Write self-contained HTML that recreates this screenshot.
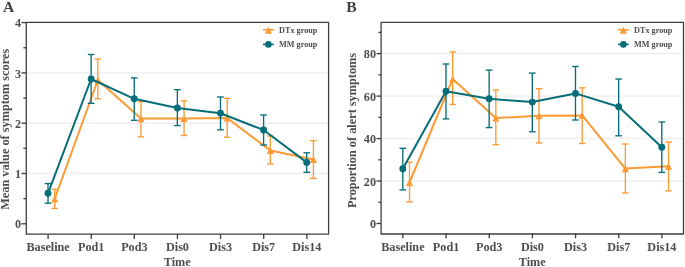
<!DOCTYPE html>
<html><head><meta charset="utf-8"><style>
html,body{margin:0;padding:0;background:#fff;}
svg{display:block;will-change:transform;}
.t{font-family:"Liberation Serif", serif;font-weight:bold;font-size:12.2px;fill:#4d4d4d;}
.leg{font-family:"Liberation Serif", serif;font-weight:bold;font-size:8.2px;fill:#4d4d4d;}
.lab{font-family:"Liberation Serif", serif;font-weight:bold;font-size:15.6px;fill:#404040;}
</style></head><body>
<svg width="685" height="267" viewBox="0 0 685 267">
<rect width="685" height="267" fill="#fff"/>
<line x1="26" y1="173.50" x2="328.5" y2="173.50" stroke="#eeeeee" stroke-width="1.4"/>
<line x1="26" y1="123.20" x2="328.5" y2="123.20" stroke="#eeeeee" stroke-width="1.4"/>
<line x1="26" y1="72.90" x2="328.5" y2="72.90" stroke="#eeeeee" stroke-width="1.4"/>
<line x1="26" y1="22.60" x2="328.5" y2="22.60" stroke="#eeeeee" stroke-width="1.4"/>
<path d="M26.3,22.3 L328.6,22.3 L328.6,234.2 L26.3,234.2 Z" fill="none" stroke="#404040" stroke-width="1.3" stroke-linejoin="miter"/>
<line x1="21.5" y1="223.80" x2="26" y2="223.80" stroke="#404040" stroke-width="1.35"/>
<text x="21" y="228.40" text-anchor="end" class="t">0</text>
<line x1="21.5" y1="173.50" x2="26" y2="173.50" stroke="#404040" stroke-width="1.35"/>
<text x="21" y="178.10" text-anchor="end" class="t">1</text>
<line x1="21.5" y1="123.20" x2="26" y2="123.20" stroke="#404040" stroke-width="1.35"/>
<text x="21" y="127.80" text-anchor="end" class="t">2</text>
<line x1="21.5" y1="72.90" x2="26" y2="72.90" stroke="#404040" stroke-width="1.35"/>
<text x="21" y="77.50" text-anchor="end" class="t">3</text>
<line x1="21.5" y1="22.60" x2="26" y2="22.60" stroke="#404040" stroke-width="1.35"/>
<text x="21" y="27.20" text-anchor="end" class="t">4</text>
<line x1="23.4" y1="198.65" x2="26" y2="198.65" stroke="#404040" stroke-width="1.35"/>
<line x1="23.4" y1="148.35" x2="26" y2="148.35" stroke="#404040" stroke-width="1.35"/>
<line x1="23.4" y1="98.05" x2="26" y2="98.05" stroke="#404040" stroke-width="1.35"/>
<line x1="23.4" y1="47.75" x2="26" y2="47.75" stroke="#404040" stroke-width="1.35"/>
<line x1="48.10" y1="234" x2="48.10" y2="239" stroke="#404040" stroke-width="1.35"/>
<text x="48.10" y="250.8" text-anchor="middle" class="t">Baseline</text>
<line x1="91.22" y1="234" x2="91.22" y2="239" stroke="#404040" stroke-width="1.35"/>
<text x="91.22" y="250.8" text-anchor="middle" class="t">Pod1</text>
<line x1="134.34" y1="234" x2="134.34" y2="239" stroke="#404040" stroke-width="1.35"/>
<text x="134.34" y="250.8" text-anchor="middle" class="t">Pod3</text>
<line x1="177.46" y1="234" x2="177.46" y2="239" stroke="#404040" stroke-width="1.35"/>
<text x="177.46" y="250.8" text-anchor="middle" class="t">Dis0</text>
<line x1="220.58" y1="234" x2="220.58" y2="239" stroke="#404040" stroke-width="1.35"/>
<text x="220.58" y="250.8" text-anchor="middle" class="t">Dis3</text>
<line x1="263.70" y1="234" x2="263.70" y2="239" stroke="#404040" stroke-width="1.35"/>
<text x="263.70" y="250.8" text-anchor="middle" class="t">Dis7</text>
<line x1="306.82" y1="234" x2="306.82" y2="239" stroke="#404040" stroke-width="1.35"/>
<text x="306.82" y="250.8" text-anchor="middle" class="t">Dis14</text>
<text x="177.25" y="266" text-anchor="middle" class="t">Time</text>
<text transform="translate(9.30,129.30) rotate(-90)" x="0" y="0" text-anchor="middle" class="t" style="font-size:12.3px">Mean value of symptom scores</text>
<text x="3" y="11.5" class="lab">A</text>
<line x1="54.70" y1="189.30" x2="54.70" y2="208.40" stroke="#fc9a33" stroke-width="1.35"/>
<line x1="51.40" y1="189.30" x2="58.00" y2="189.30" stroke="#fc9a33" stroke-width="1.35"/>
<line x1="51.40" y1="208.40" x2="58.00" y2="208.40" stroke="#fc9a33" stroke-width="1.35"/>
<line x1="97.82" y1="59.00" x2="97.82" y2="98.80" stroke="#fc9a33" stroke-width="1.35"/>
<line x1="94.52" y1="59.00" x2="101.12" y2="59.00" stroke="#fc9a33" stroke-width="1.35"/>
<line x1="94.52" y1="98.80" x2="101.12" y2="98.80" stroke="#fc9a33" stroke-width="1.35"/>
<line x1="140.94" y1="101.50" x2="140.94" y2="136.90" stroke="#fc9a33" stroke-width="1.35"/>
<line x1="137.64" y1="101.50" x2="144.24" y2="101.50" stroke="#fc9a33" stroke-width="1.35"/>
<line x1="137.64" y1="136.90" x2="144.24" y2="136.90" stroke="#fc9a33" stroke-width="1.35"/>
<line x1="184.06" y1="100.90" x2="184.06" y2="135.50" stroke="#fc9a33" stroke-width="1.35"/>
<line x1="180.76" y1="100.90" x2="187.36" y2="100.90" stroke="#fc9a33" stroke-width="1.35"/>
<line x1="180.76" y1="135.50" x2="187.36" y2="135.50" stroke="#fc9a33" stroke-width="1.35"/>
<line x1="227.18" y1="98.40" x2="227.18" y2="137.20" stroke="#fc9a33" stroke-width="1.35"/>
<line x1="223.88" y1="98.40" x2="230.48" y2="98.40" stroke="#fc9a33" stroke-width="1.35"/>
<line x1="223.88" y1="137.20" x2="230.48" y2="137.20" stroke="#fc9a33" stroke-width="1.35"/>
<line x1="270.30" y1="136.00" x2="270.30" y2="164.00" stroke="#fc9a33" stroke-width="1.35"/>
<line x1="267.00" y1="136.00" x2="273.60" y2="136.00" stroke="#fc9a33" stroke-width="1.35"/>
<line x1="267.00" y1="164.00" x2="273.60" y2="164.00" stroke="#fc9a33" stroke-width="1.35"/>
<line x1="313.42" y1="140.60" x2="313.42" y2="178.30" stroke="#fc9a33" stroke-width="1.35"/>
<line x1="310.12" y1="140.60" x2="316.72" y2="140.60" stroke="#fc9a33" stroke-width="1.35"/>
<line x1="310.12" y1="178.30" x2="316.72" y2="178.30" stroke="#fc9a33" stroke-width="1.35"/>
<path d="M54.70,199.00 L97.82,80.00 L140.94,118.50 L184.06,118.50 L227.18,118.00 L270.30,150.40 L313.42,159.40" fill="none" stroke="#fc9a33" stroke-width="2" stroke-linejoin="round"/>
<path d="M54.70,195.45 L58.25,202.55 L51.15,202.55 Z" fill="#fc9a33"/>
<path d="M97.82,76.45 L101.37,83.55 L94.27,83.55 Z" fill="#fc9a33"/>
<path d="M140.94,114.95 L144.49,122.05 L137.39,122.05 Z" fill="#fc9a33"/>
<path d="M184.06,114.95 L187.61,122.05 L180.51,122.05 Z" fill="#fc9a33"/>
<path d="M227.18,114.45 L230.73,121.55 L223.63,121.55 Z" fill="#fc9a33"/>
<path d="M270.30,146.85 L273.85,153.95 L266.75,153.95 Z" fill="#fc9a33"/>
<path d="M313.42,155.85 L316.97,162.95 L309.87,162.95 Z" fill="#fc9a33"/>
<line x1="48.00" y1="183.60" x2="48.00" y2="203.20" stroke="#066e78" stroke-width="1.35"/>
<line x1="44.70" y1="183.60" x2="51.30" y2="183.60" stroke="#066e78" stroke-width="1.35"/>
<line x1="44.70" y1="203.20" x2="51.30" y2="203.20" stroke="#066e78" stroke-width="1.35"/>
<line x1="91.12" y1="54.50" x2="91.12" y2="103.30" stroke="#066e78" stroke-width="1.35"/>
<line x1="87.82" y1="54.50" x2="94.42" y2="54.50" stroke="#066e78" stroke-width="1.35"/>
<line x1="87.82" y1="103.30" x2="94.42" y2="103.30" stroke="#066e78" stroke-width="1.35"/>
<line x1="134.24" y1="77.90" x2="134.24" y2="120.30" stroke="#066e78" stroke-width="1.35"/>
<line x1="130.94" y1="77.90" x2="137.54" y2="77.90" stroke="#066e78" stroke-width="1.35"/>
<line x1="130.94" y1="120.30" x2="137.54" y2="120.30" stroke="#066e78" stroke-width="1.35"/>
<line x1="177.36" y1="89.70" x2="177.36" y2="125.60" stroke="#066e78" stroke-width="1.35"/>
<line x1="174.06" y1="89.70" x2="180.66" y2="89.70" stroke="#066e78" stroke-width="1.35"/>
<line x1="174.06" y1="125.60" x2="180.66" y2="125.60" stroke="#066e78" stroke-width="1.35"/>
<line x1="220.48" y1="97.00" x2="220.48" y2="129.80" stroke="#066e78" stroke-width="1.35"/>
<line x1="217.18" y1="97.00" x2="223.78" y2="97.00" stroke="#066e78" stroke-width="1.35"/>
<line x1="217.18" y1="129.80" x2="223.78" y2="129.80" stroke="#066e78" stroke-width="1.35"/>
<line x1="263.60" y1="115.00" x2="263.60" y2="145.00" stroke="#066e78" stroke-width="1.35"/>
<line x1="260.30" y1="115.00" x2="266.90" y2="115.00" stroke="#066e78" stroke-width="1.35"/>
<line x1="260.30" y1="145.00" x2="266.90" y2="145.00" stroke="#066e78" stroke-width="1.35"/>
<line x1="306.72" y1="152.80" x2="306.72" y2="172.30" stroke="#066e78" stroke-width="1.35"/>
<line x1="303.42" y1="152.80" x2="310.02" y2="152.80" stroke="#066e78" stroke-width="1.35"/>
<line x1="303.42" y1="172.30" x2="310.02" y2="172.30" stroke="#066e78" stroke-width="1.35"/>
<path d="M48.00,193.30 L91.12,79.00 L134.24,98.80 L177.36,108.00 L220.48,113.30 L263.60,130.00 L306.72,162.40" fill="none" stroke="#066e78" stroke-width="2" stroke-linejoin="round"/>
<circle cx="48.00" cy="193.30" r="3.45" fill="#066e78"/>
<circle cx="91.12" cy="79.00" r="3.45" fill="#066e78"/>
<circle cx="134.24" cy="98.80" r="3.45" fill="#066e78"/>
<circle cx="177.36" cy="108.00" r="3.45" fill="#066e78"/>
<circle cx="220.48" cy="113.30" r="3.45" fill="#066e78"/>
<circle cx="263.60" cy="130.00" r="3.45" fill="#066e78"/>
<circle cx="306.72" cy="162.40" r="3.45" fill="#066e78"/>
<line x1="263.00" y1="29.8" x2="273.80" y2="29.8" stroke="#fc9a33" stroke-width="1.6"/>
<path d="M268.40,26.65 L271.95,33.75 L264.85,33.75 Z" fill="#fc9a33"/>
<text x="279.10" y="33.1" class="leg">DTx group</text>
<line x1="263.00" y1="44.4" x2="273.80" y2="44.4" stroke="#066e78" stroke-width="1.6"/>
<circle cx="268.40" cy="44.4" r="3.3" fill="#066e78"/>
<text x="279.10" y="46.7" class="leg">MM group</text>
<line x1="381" y1="181.03" x2="683.5" y2="181.03" stroke="#eeeeee" stroke-width="1.4"/>
<line x1="381" y1="138.57" x2="683.5" y2="138.57" stroke="#eeeeee" stroke-width="1.4"/>
<line x1="381" y1="96.10" x2="683.5" y2="96.10" stroke="#eeeeee" stroke-width="1.4"/>
<line x1="381" y1="53.64" x2="683.5" y2="53.64" stroke="#eeeeee" stroke-width="1.4"/>
<path d="M381.1,22.3 L683.5,22.3 L683.5,234.0 L381.1,234.0 Z" fill="none" stroke="#404040" stroke-width="1.3" stroke-linejoin="miter"/>
<line x1="376.5" y1="223.50" x2="381" y2="223.50" stroke="#404040" stroke-width="1.35"/>
<text x="376" y="228.10" text-anchor="end" class="t">0</text>
<line x1="376.5" y1="181.03" x2="381" y2="181.03" stroke="#404040" stroke-width="1.35"/>
<text x="376" y="185.63" text-anchor="end" class="t">20</text>
<line x1="376.5" y1="138.57" x2="381" y2="138.57" stroke="#404040" stroke-width="1.35"/>
<text x="376" y="143.17" text-anchor="end" class="t">40</text>
<line x1="376.5" y1="96.10" x2="381" y2="96.10" stroke="#404040" stroke-width="1.35"/>
<text x="376" y="100.70" text-anchor="end" class="t">60</text>
<line x1="376.5" y1="53.64" x2="381" y2="53.64" stroke="#404040" stroke-width="1.35"/>
<text x="376" y="58.24" text-anchor="end" class="t">80</text>
<line x1="378.4" y1="202.27" x2="381" y2="202.27" stroke="#404040" stroke-width="1.35"/>
<line x1="378.4" y1="159.80" x2="381" y2="159.80" stroke="#404040" stroke-width="1.35"/>
<line x1="378.4" y1="117.34" x2="381" y2="117.34" stroke="#404040" stroke-width="1.35"/>
<line x1="378.4" y1="74.87" x2="381" y2="74.87" stroke="#404040" stroke-width="1.35"/>
<line x1="378.4" y1="32.40" x2="381" y2="32.40" stroke="#404040" stroke-width="1.35"/>
<line x1="402.90" y1="233.3" x2="402.90" y2="238.3" stroke="#404040" stroke-width="1.35"/>
<text x="402.90" y="250.8" text-anchor="middle" class="t">Baseline</text>
<line x1="446.07" y1="233.3" x2="446.07" y2="238.3" stroke="#404040" stroke-width="1.35"/>
<text x="446.07" y="250.8" text-anchor="middle" class="t">Pod1</text>
<line x1="489.24" y1="233.3" x2="489.24" y2="238.3" stroke="#404040" stroke-width="1.35"/>
<text x="489.24" y="250.8" text-anchor="middle" class="t">Pod3</text>
<line x1="532.41" y1="233.3" x2="532.41" y2="238.3" stroke="#404040" stroke-width="1.35"/>
<text x="532.41" y="250.8" text-anchor="middle" class="t">Dis0</text>
<line x1="575.58" y1="233.3" x2="575.58" y2="238.3" stroke="#404040" stroke-width="1.35"/>
<text x="575.58" y="250.8" text-anchor="middle" class="t">Dis3</text>
<line x1="618.75" y1="233.3" x2="618.75" y2="238.3" stroke="#404040" stroke-width="1.35"/>
<text x="618.75" y="250.8" text-anchor="middle" class="t">Dis7</text>
<line x1="661.92" y1="233.3" x2="661.92" y2="238.3" stroke="#404040" stroke-width="1.35"/>
<text x="661.92" y="250.8" text-anchor="middle" class="t">Dis14</text>
<text x="532.25" y="266" text-anchor="middle" class="t">Time</text>
<text transform="translate(355.80,130.50) rotate(-90)" x="0" y="0" text-anchor="middle" class="t" style="font-size:12.3px">Proportion of alert symptoms</text>
<text x="346.3" y="11.5" class="lab">B</text>
<line x1="409.50" y1="162.20" x2="409.50" y2="201.90" stroke="#fc9a33" stroke-width="1.35"/>
<line x1="406.20" y1="162.20" x2="412.80" y2="162.20" stroke="#fc9a33" stroke-width="1.35"/>
<line x1="406.20" y1="201.90" x2="412.80" y2="201.90" stroke="#fc9a33" stroke-width="1.35"/>
<line x1="452.67" y1="52.00" x2="452.67" y2="104.40" stroke="#fc9a33" stroke-width="1.35"/>
<line x1="449.37" y1="52.00" x2="455.97" y2="52.00" stroke="#fc9a33" stroke-width="1.35"/>
<line x1="449.37" y1="104.40" x2="455.97" y2="104.40" stroke="#fc9a33" stroke-width="1.35"/>
<line x1="495.84" y1="90.00" x2="495.84" y2="144.80" stroke="#fc9a33" stroke-width="1.35"/>
<line x1="492.54" y1="90.00" x2="499.14" y2="90.00" stroke="#fc9a33" stroke-width="1.35"/>
<line x1="492.54" y1="144.80" x2="499.14" y2="144.80" stroke="#fc9a33" stroke-width="1.35"/>
<line x1="539.01" y1="88.70" x2="539.01" y2="143.00" stroke="#fc9a33" stroke-width="1.35"/>
<line x1="535.71" y1="88.70" x2="542.31" y2="88.70" stroke="#fc9a33" stroke-width="1.35"/>
<line x1="535.71" y1="143.00" x2="542.31" y2="143.00" stroke="#fc9a33" stroke-width="1.35"/>
<line x1="582.18" y1="87.80" x2="582.18" y2="143.50" stroke="#fc9a33" stroke-width="1.35"/>
<line x1="578.88" y1="87.80" x2="585.48" y2="87.80" stroke="#fc9a33" stroke-width="1.35"/>
<line x1="578.88" y1="143.50" x2="585.48" y2="143.50" stroke="#fc9a33" stroke-width="1.35"/>
<line x1="625.35" y1="144.00" x2="625.35" y2="193.00" stroke="#fc9a33" stroke-width="1.35"/>
<line x1="622.05" y1="144.00" x2="628.65" y2="144.00" stroke="#fc9a33" stroke-width="1.35"/>
<line x1="622.05" y1="193.00" x2="628.65" y2="193.00" stroke="#fc9a33" stroke-width="1.35"/>
<line x1="668.52" y1="142.00" x2="668.52" y2="190.90" stroke="#fc9a33" stroke-width="1.35"/>
<line x1="665.22" y1="142.00" x2="671.82" y2="142.00" stroke="#fc9a33" stroke-width="1.35"/>
<line x1="665.22" y1="190.90" x2="671.82" y2="190.90" stroke="#fc9a33" stroke-width="1.35"/>
<path d="M409.50,182.50 L452.67,79.00 L495.84,118.00 L539.01,115.80 L582.18,115.40 L625.35,168.60 L668.52,166.30" fill="none" stroke="#fc9a33" stroke-width="2" stroke-linejoin="round"/>
<path d="M409.50,178.95 L413.05,186.05 L405.95,186.05 Z" fill="#fc9a33"/>
<path d="M452.67,75.45 L456.22,82.55 L449.12,82.55 Z" fill="#fc9a33"/>
<path d="M495.84,114.45 L499.39,121.55 L492.29,121.55 Z" fill="#fc9a33"/>
<path d="M539.01,112.25 L542.56,119.35 L535.46,119.35 Z" fill="#fc9a33"/>
<path d="M582.18,111.85 L585.73,118.95 L578.63,118.95 Z" fill="#fc9a33"/>
<path d="M625.35,165.05 L628.90,172.15 L621.80,172.15 Z" fill="#fc9a33"/>
<path d="M668.52,162.75 L672.07,169.85 L664.97,169.85 Z" fill="#fc9a33"/>
<line x1="402.80" y1="148.30" x2="402.80" y2="189.90" stroke="#066e78" stroke-width="1.35"/>
<line x1="399.50" y1="148.30" x2="406.10" y2="148.30" stroke="#066e78" stroke-width="1.35"/>
<line x1="399.50" y1="189.90" x2="406.10" y2="189.90" stroke="#066e78" stroke-width="1.35"/>
<line x1="445.97" y1="64.00" x2="445.97" y2="118.90" stroke="#066e78" stroke-width="1.35"/>
<line x1="442.67" y1="64.00" x2="449.27" y2="64.00" stroke="#066e78" stroke-width="1.35"/>
<line x1="442.67" y1="118.90" x2="449.27" y2="118.90" stroke="#066e78" stroke-width="1.35"/>
<line x1="489.14" y1="70.10" x2="489.14" y2="127.60" stroke="#066e78" stroke-width="1.35"/>
<line x1="485.84" y1="70.10" x2="492.44" y2="70.10" stroke="#066e78" stroke-width="1.35"/>
<line x1="485.84" y1="127.60" x2="492.44" y2="127.60" stroke="#066e78" stroke-width="1.35"/>
<line x1="532.31" y1="73.10" x2="532.31" y2="131.80" stroke="#066e78" stroke-width="1.35"/>
<line x1="529.01" y1="73.10" x2="535.61" y2="73.10" stroke="#066e78" stroke-width="1.35"/>
<line x1="529.01" y1="131.80" x2="535.61" y2="131.80" stroke="#066e78" stroke-width="1.35"/>
<line x1="575.48" y1="66.50" x2="575.48" y2="120.00" stroke="#066e78" stroke-width="1.35"/>
<line x1="572.18" y1="66.50" x2="578.78" y2="66.50" stroke="#066e78" stroke-width="1.35"/>
<line x1="572.18" y1="120.00" x2="578.78" y2="120.00" stroke="#066e78" stroke-width="1.35"/>
<line x1="618.65" y1="79.00" x2="618.65" y2="135.80" stroke="#066e78" stroke-width="1.35"/>
<line x1="615.35" y1="79.00" x2="621.95" y2="79.00" stroke="#066e78" stroke-width="1.35"/>
<line x1="615.35" y1="135.80" x2="621.95" y2="135.80" stroke="#066e78" stroke-width="1.35"/>
<line x1="661.82" y1="122.00" x2="661.82" y2="172.40" stroke="#066e78" stroke-width="1.35"/>
<line x1="658.52" y1="122.00" x2="665.12" y2="122.00" stroke="#066e78" stroke-width="1.35"/>
<line x1="658.52" y1="172.40" x2="665.12" y2="172.40" stroke="#066e78" stroke-width="1.35"/>
<path d="M402.80,168.80 L445.97,91.30 L489.14,98.80 L532.31,102.10 L575.48,93.40 L618.65,106.80 L661.82,147.20" fill="none" stroke="#066e78" stroke-width="2" stroke-linejoin="round"/>
<circle cx="402.80" cy="168.80" r="3.45" fill="#066e78"/>
<circle cx="445.97" cy="91.30" r="3.45" fill="#066e78"/>
<circle cx="489.14" cy="98.80" r="3.45" fill="#066e78"/>
<circle cx="532.31" cy="102.10" r="3.45" fill="#066e78"/>
<circle cx="575.48" cy="93.40" r="3.45" fill="#066e78"/>
<circle cx="618.65" cy="106.80" r="3.45" fill="#066e78"/>
<circle cx="661.82" cy="147.20" r="3.45" fill="#066e78"/>
<line x1="618.00" y1="29.8" x2="628.80" y2="29.8" stroke="#fc9a33" stroke-width="1.6"/>
<path d="M623.40,26.65 L626.95,33.75 L619.85,33.75 Z" fill="#fc9a33"/>
<text x="634.10" y="33.1" class="leg">DTx group</text>
<line x1="618.00" y1="44.4" x2="628.80" y2="44.4" stroke="#066e78" stroke-width="1.6"/>
<circle cx="623.40" cy="44.4" r="3.3" fill="#066e78"/>
<text x="634.10" y="46.7" class="leg">MM group</text>
</svg>
</body></html>
